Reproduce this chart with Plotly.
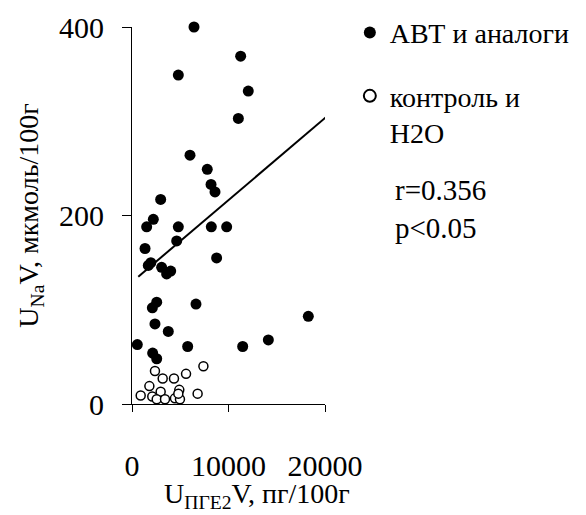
import plotly.graph_objects as go

# Filled circles: АВТ и аналоги
abt_x = [6425, 11260, 4800, 12050, 11020, 6010, 7800, 8190, 8600, 2970,
         2210, 1520, 4800, 8220, 9810, 4630, 1350, 8770, 1690, 1950,
         3070, 3590, 4010, 2560, 2110, 6630, 2380, 3760, 18270, 14130,
         11470, 5770, 550, 2140, 2560]
abt_y = [400, 369, 349, 332, 303, 264, 249, 233, 225, 217,
         196, 188, 188, 188, 188, 173, 165, 155, 147, 150,
         145, 138, 141, 108, 102, 106, 85, 77, 93, 68,
         61, 61, 63, 54, 48]

# Open circles: контроль и H2O
ctrl_x = [7400, 2380, 5600, 3180, 4350, 1800, 2970, 4900, 900, 2100,
          2560, 3420, 4450, 4970, 4800, 6800]
ctrl_y = [40, 35, 32, 27, 27, 19, 13, 15, 9, 8,
          5, 5, 6, 5, 11, 11]

# Regression line end points
trend_x = [650, 20300]
trend_y = [135, 306]

FONT = "Liberation Serif, Times New Roman, serif"
FS_TICK = 30
FS_LEG = 28
FS_TITLE = 28
FS_STAT = 29

fig = go.Figure()
fig.add_trace(go.Scatter(
    x=abt_x, y=abt_y, mode="markers", name="АВТ и аналоги",
    marker=dict(size=11, color="black", line=dict(width=0)),
    cliponaxis=False, legendgroup="a"))
fig.add_trace(go.Scatter(
    x=ctrl_x, y=ctrl_y, mode="markers", name="контроль и<br>Н2О",
    marker=dict(size=9, color="white", line=dict(width=1.5, color="black")),
    cliponaxis=False, legendgroup="b"))
fig.add_trace(go.Scatter(
    x=trend_x, y=trend_y, mode="lines", showlegend=False,
    line=dict(color="black", width=2), cliponaxis=False))

fig.update_layout(
    width=586, height=515,
    margin=dict(l=132, r=261, t=27, b=111, autoexpand=False),
    paper_bgcolor="white", plot_bgcolor="white",
    font=dict(family=FONT, size=FS_TICK, color="black"),
    showlegend=True,
    legend=dict(
        x=0.597, y=0.985, xref="container", yref="container",
        xanchor="left", yanchor="top",
        font=dict(family=FONT, size=FS_LEG, color="black"),
        traceorder="grouped", tracegroupgap=24, valign="top",
        bgcolor="rgba(0,0,0,0)", itemsizing="constant"),
    xaxis=dict(
        range=[0, 20000], tickvals=[0, 10000, 20000],
        ticktext=["0", "10000", "20000"], automargin=False,
        showgrid=False, zeroline=False, showline=True,
        linecolor="black", linewidth=1, ticks="outside", ticklen=7,
        tickcolor="black", ticklabelstandoff=28,
        tickfont=dict(family=FONT, size=FS_TICK)),
    yaxis=dict(
        range=[0, 400], tickvals=[0, 200, 400], automargin=False,
        showgrid=False, zeroline=False, showline=True,
        linecolor="black", linewidth=1, ticks="outside", ticklen=9,
        tickcolor="black", ticklabelstandoff=12,
        tickfont=dict(family=FONT, size=FS_TICK),
        title=dict(text="U<sub>Na</sub>V, мкмоль/100г", standoff=12,
                   font=dict(family=FONT, size=FS_TITLE))),
    annotations=[
        dict(text="U<sub>ПГЕ2</sub>V, пг/100г", xref="paper", yref="paper",
             x=0.648, y=-0.243, xanchor="center", yanchor="middle",
             showarrow=False, font=dict(family=FONT, size=FS_TITLE)),
        dict(text="r=0.356<br>p<0.05", xref="paper", yref="paper",
             x=1.352, y=0.518, xanchor="left", yanchor="middle", align="left",
             showarrow=False, font=dict(family=FONT, size=FS_STAT)),
    ],
)

fig.write_html("out.html")
